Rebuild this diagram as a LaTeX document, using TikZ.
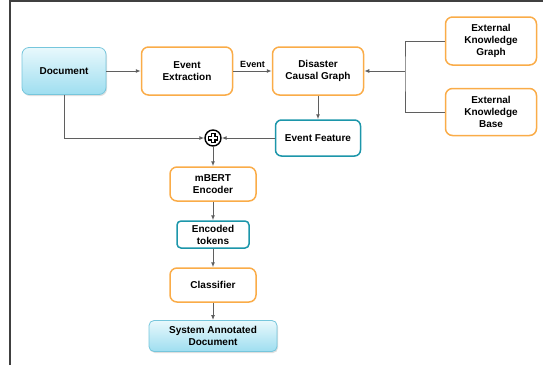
\documentclass[tikz,border=0pt]{standalone}
\usepackage{fontspec}
\setmainfont{Liberation Sans}
\usetikzlibrary{arrows.meta,positioning,shadows}
\definecolor{boxorange}{RGB}{250,172,72}
\definecolor{boxteal}{RGB}{28,150,170}
\definecolor{docedge}{RGB}{118,198,220}
\definecolor{doctop}{RGB}{232,248,252}
\definecolor{docbot}{RGB}{158,222,240}
\definecolor{wiregray}{RGB}{95,95,95}

\begin{document}
\begin{tikzpicture}[x=1pt, y=-1pt,
    font=\fontsize{10}{12}\selectfont\bfseries,
    orangebox/.style={rectangle, rounded corners=7pt, draw=boxorange, line width=1.5pt, fill=white, align=center, inner sep=0pt},
    tealbox/.style={rectangle, rounded corners=6pt, draw=boxteal, line width=1.5pt, fill=white, align=center, inner sep=0pt},
    docbox/.style={rectangle, rounded corners=7pt, draw=docedge, line width=0.8pt, top color=doctop, bottom color=docbot, align=center, inner sep=0pt, drop shadow={shadow xshift=1pt, shadow yshift=-1.5pt, opacity=0.25}},
    wire/.style={-{Latex[length=5pt, width=4pt]}, wiregray, line width=1pt}]
        \useasboundingbox (0,0) rectangle (543,365);
        \draw[line width=1.6pt, color=black!75] (10,365) -- (10,1) -- (543,1);

        \node[docbox, minimum width=84pt, minimum height=47pt] (doc) at (64,71) {Document};
        \node[orangebox, minimum width=91pt, minimum height=48pt] (extract) at (187,71) {Event\\Extraction};
        \node[orangebox, minimum width=91pt, minimum height=48pt] (dcg) at (318,71) {Disaster\\Causal Graph};
        \node[orangebox, minimum width=91pt, minimum height=48pt] (ekg) at (491,41) {External\\Knowledge\\Graph};
        \node[orangebox, minimum width=91pt, minimum height=47pt] (ekb) at (491,112) {External\\Knowledge\\Base};
        \node[tealbox, minimum width=85pt, minimum height=36pt] (feature) at (318,138) {Event Feature};
        \node[circle, draw, fill=white, line width=1.4pt, minimum size=16pt, inner sep=0pt] (plus) at (213,138) {};
        \draw[line width=5pt] ([xshift=-5pt]plus.center) -- ([xshift=5pt]plus.center) ([yshift=-5pt]plus.center) -- ([yshift=5pt]plus.center);
        \draw[line width=2.4pt, white] ([xshift=-4pt]plus.center) -- ([xshift=4pt]plus.center) ([yshift=-4pt]plus.center) -- ([yshift=4pt]plus.center);
        \node[orangebox, minimum width=86pt, minimum height=34pt] (mbert) at (213,184) {mBERT\\Encoder};
        \node[tealbox, rounded corners=4pt, minimum width=72pt, minimum height=27pt] (tokens) at (213,234.5) {Encoded\\tokens};
        \node[orangebox, minimum width=86pt, minimum height=34pt] (classifier) at (213,285) {Classifier};
        \node[docbox, rounded corners=5pt, minimum width=128pt, minimum height=31pt] (output) at (213,336) {System Annotated\\Document};
        \coordinate (fork) at (405,71);

        \draw[wire] (doc) -- (extract);
        \draw[wire] (extract) -- node[above, inner sep=3pt, text=black, font=\fontsize{9}{11}\selectfont\bfseries] {Event} (dcg);
        \draw[wiregray, line width=1pt] (ekg.west) -| (fork) -- (fork |- ekb.west) -- (ekb.west);
        \draw[wire] (fork) -- (dcg);
        \draw[wire] (dcg) -- (feature);
        \draw[wire] (doc.south) |- (plus);
        \draw[wire] (feature) -- (plus);
        \draw[wire] (plus) -- (mbert);
        \draw[wire] (mbert) -- (tokens);
        \draw[wire] (tokens) -- (classifier);
        \draw[wire] (classifier) -- (output);
    \end{tikzpicture}
\end{document}
